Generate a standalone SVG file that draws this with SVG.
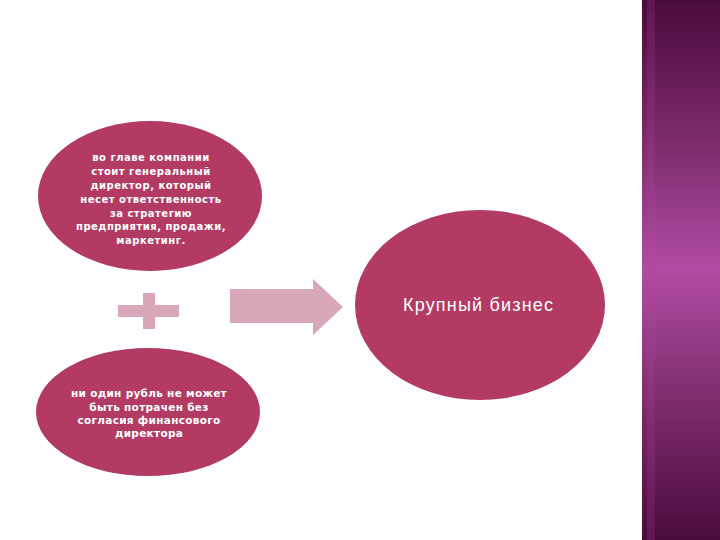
<svg xmlns="http://www.w3.org/2000/svg" width="720" height="540" viewBox="0 0 720 540">
<defs>
<linearGradient id="side" x1="0" y1="0" x2="0" y2="1">
<stop offset="0" stop-color="#4a0b3b"/>
<stop offset="0.25" stop-color="#7a2a6a"/>
<stop offset="0.5" stop-color="#b04ca2"/>
<stop offset="0.75" stop-color="#7c2c6c"/>
<stop offset="1" stop-color="#4a0b3b"/>
</linearGradient>
<style>
.node{fill:#b33a62}
.sm{font-family:"DejaVu Sans","Liberation Sans",sans-serif;font-size:10px;font-weight:bold;fill:#ffffff;text-anchor:middle;letter-spacing:0.5px}
.sm2{font-family:"DejaVu Sans","Liberation Sans",sans-serif;font-size:10.5px;font-weight:bold;fill:#ffffff;text-anchor:middle;letter-spacing:0.3px}
.big{font-family:"Liberation Sans","DejaVu Sans",sans-serif;font-size:18px;fill:#ffffff;text-anchor:middle}
.conn{fill:#d9a8b6}
</style>
</defs>
<rect width="720" height="540" fill="#ffffff"/>
<rect x="642" y="0" width="78" height="540" fill="url(#side)"/>
<rect x="647" y="0" width="8" height="540" fill="#c040a0" opacity="0.2"/>
<g id="node-top">
<ellipse class="node" cx="150" cy="196" rx="112" ry="75"/>
<text class="sm"><tspan x="151" y="161">во главе компании</tspan><tspan x="151" y="175">стоит генеральный</tspan><tspan x="151" y="189">директор, который</tspan><tspan x="151" y="203">несет ответственность</tspan><tspan x="151" y="217">за стратегию</tspan><tspan x="151" y="230">предприятия, продажи,</tspan><tspan x="151" y="244">маркетинг.</tspan></text>
</g>
<g id="node-bottom">
<ellipse class="node" cx="148" cy="412" rx="112" ry="64"/>
<text class="sm2"><tspan x="149" y="397">ни один рубль не может</tspan><tspan x="149" y="411">быть потрачен без</tspan><tspan x="149" y="424">согласия финансового</tspan><tspan x="149" y="437">директора</tspan></text>
</g>
<g id="node-right">
<ellipse class="node" cx="480" cy="305" rx="125" ry="95"/>
<text class="big" x="478" y="311" textLength="150">Крупный бизнес</text>
</g>
<g id="connectors">
<rect class="conn" x="118" y="305" width="61" height="12"/>
<rect class="conn" x="143" y="293" width="12" height="36"/>
<polygon class="conn" points="230,289 313,289 313,279 343,307 313,335 313,323 230,323"/>
</g>
</svg>
